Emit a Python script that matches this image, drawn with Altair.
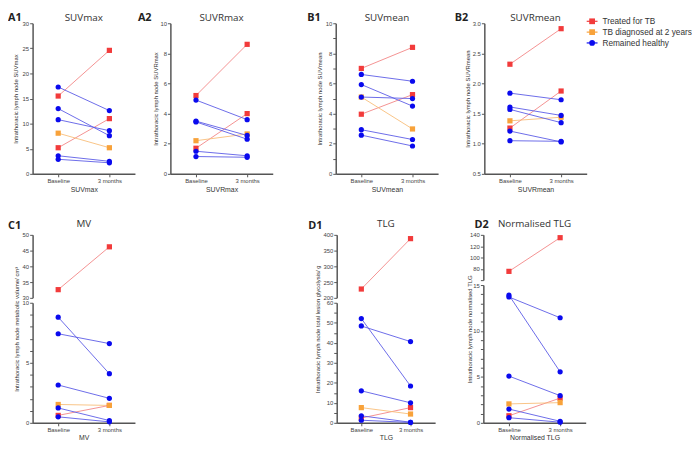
import altair as alt
import pandas as pd

# ---------------- data ----------------
group_names = ["Treated for TB", "TB diagnosed at 2 years", "Remained healthy"]
subject_groups = ["Treated for TB", "Treated for TB", "TB diagnosed at 2 years",
                  "Remained healthy", "Remained healthy", "Remained healthy",
                  "Remained healthy", "Remained healthy"]
timepoints = ["Baseline", "3 months"]

suvmax_baseline = [15.5, 5.2, 8.1, 17.3, 13.0, 10.8, 3.6, 2.9]
suvmax_3months = [24.6, 11.0, 5.2, 12.6, 7.6, 8.6, 2.5, 2.2]

suvrmax_baseline = [5.2, 1.7, 2.2, 4.9, 3.5, 3.45, 1.5, 1.15]
suvrmax_3months = [8.6, 4.0, 2.65, 3.6, 2.55, 2.3, 1.2, 1.1]

suvmean_baseline = [7.0, 3.96, 5.1, 6.6, 5.93, 5.1, 2.93, 2.57]
suvmean_3months = [8.4, 5.26, 2.98, 6.15, 4.5, 5.0, 2.28, 1.85]

suvrmean_baseline = [2.32, 1.26, 1.38, 1.84, 1.61, 1.57, 1.21, 1.05]
suvrmean_3months = [2.91, 1.875, 1.44, 1.73, 1.47, 1.35, 1.03, 1.04]

mv_baseline = [32.6, 0.62, 1.53, 8.8, 7.42, 3.15, 1.24, 0.5]
mv_3months = [46.2, 1.45, 1.45, 4.09, 6.6, 2.04, 0.19, 0.08]

tlg_baseline = [228, 2.4, 7.6, 52.1, 48.4, 16.0, 3.5, 1.3]
tlg_3months = [388, 7.6, 4.4, 18.4, 40.6, 10.0, 0.3, 0.2]

ntlg_baseline = [75.5, 0.77, 2.06, 13.9, 13.7, 5.09, 1.5, 0.56]
ntlg_3months = [135, 2.69, 2.2, 5.55, 11.44, 2.96, 0.17, 0.07]

point_colors = ["#F23B3B", "#F8A23A", "#0A0AEE"]
line_colors = ["#F28585", "#F8BD78", "#5B5BE6"]
shapes = ["square", "square", "circle"]

FONT = "Liberation Sans"
TFONT = "Open Sans"

color_scale = alt.Scale(domain=group_names, range=point_colors)
stroke_scale = alt.Scale(domain=group_names, range=line_colors)
shape_scale = alt.Scale(domain=group_names, range=shapes)


def table(base, m3):
    rows = []
    for i, (g, b, m) in enumerate(zip(subject_groups, base, m3)):
        rows.append({"subject": i, "group": g, "time": timepoints[0], "value": b})
        rows.append({"subject": i, "group": g, "time": timepoints[1], "value": m})
    return pd.DataFrame(rows)


def xenc(xtitle, show, tpad=2):
    kw = dict(sort=timepoints, scale=alt.Scale(type="point", padding=0.5))
    if show:
        kw["axis"] = alt.Axis(title=xtitle, labelAngle=0, labelFontSize=6, titleFontSize=7,
                              labelFont=FONT, titleFont=FONT, tickSize=3, labelPadding=1,
                              titlePadding=tpad, domainColor="#555", domainWidth=1.5,
                              tickColor="#555", labelColor="#444", titleColor="#333",
                              titleFontWeight="normal")
    else:
        kw["axis"] = None
    return alt.X("time:N", **kw)


def yenc(domain, values, label_expr=None, fmt=None, title=None, tx=None, ty=None):
    ax = dict(values=values, labelFontSize=6, labelFont=FONT, titleFont=FONT, titleFontSize=6,
              tickSize=3, labelPadding=1, domainColor="#555", domainWidth=1.5,
              tickColor="#555", labelColor="#444", titleColor="#333", labelOverlap=False,
              titleFontWeight="normal", grid=False, title=title)
    if label_expr:
        ax["labelExpr"] = label_expr
    if fmt:
        ax["format"] = fmt
    if title:
        ax["titleX"] = tx
        ax["titleY"] = ty
        ax["titleBaseline"] = "middle"
    return alt.Y("value:Q", scale=alt.Scale(domain=domain, nice=False, zero=False),
                 axis=alt.Axis(**ax))


def view(df, w, h, x, y, filt=None, label=None, lpos=None, title=None, ty=-5):
    base = alt.Chart(df)
    if filt is not None:
        base = base.transform_filter(filt)
    lines = base.mark_line(strokeWidth=1, opacity=0.9).encode(
        x=x, y=y, detail="subject:N",
        stroke=alt.Stroke("group:N", scale=stroke_scale, legend=None))
    pts = base.mark_point(filled=True, size=28, opacity=1).encode(
        x=x, y=y,
        color=alt.Color("group:N", scale=color_scale, legend=None),
        shape=alt.Shape("group:N", scale=shape_scale, legend=None))
    layers = [lines, pts]
    if label:
        lab = alt.Chart(pd.DataFrame({"label": [label]})).mark_text(
            font=TFONT, fontSize=11, fontWeight="bold", align="left", baseline="middle",
            color="#222").encode(text="label:N", x=alt.value(lpos[0]), y=alt.value(lpos[1]))
        layers.append(lab)
    if title:
        tt = alt.Chart(pd.DataFrame({"title": [title]})).mark_text(
            font=TFONT, fontSize=10, align="center", baseline="middle",
            color="#333").encode(text="title:N", x=alt.value(w / 2), y=alt.value(ty))
        layers.append(tt)
    return alt.layer(*layers).properties(width=w, height=h)


TOPH = 153
LY = -5.5

A1 = view(table(suvmax_baseline, suvmax_3months), 104, TOPH, xenc("SUVmax", True),
          yenc([0, 30], [0, 5, 10, 15, 20, 25, 30], title="Intrathoracic lymph node SUVmax",
               tx=-17.5, ty=TOPH / 2),
          label="A1", lpos=(-25, LY), title="SUVmax")
A2 = view(table(suvrmax_baseline, suvrmax_3months), 104, TOPH, xenc("SUVRmax", True),
          yenc([0, 10], [0, 2, 4, 6, 8, 10], title="Intrathoracic lymph node SUVRmax",
               tx=-15.5, ty=TOPH / 2),
          label="A2", lpos=(-33, LY), title="SUVRmax")
B1 = view(table(suvmean_baseline, suvmean_3months), 104, TOPH, xenc("SUVmean", True),
          yenc([0, 10], list(range(0, 11)), label_expr="datum.value % 2 === 0 ? datum.label : ''",
               title="Intrathoracic lymph node  SUVmean", tx=-16.5, ty=TOPH / 2),
          label="B1", lpos=(-29, LY), title="SUVmean")
B2 = view(table(suvrmean_baseline, suvrmean_3months), 104, TOPH, xenc("SUVRmean", True),
          yenc([0.5, 3.0], [0.5, 1.0, 1.5, 2.0, 2.5, 3.0], fmt=".1f",
               title="Intrathoracic lymph node  SUVRmean", tx=-17.5, ty=TOPH / 2),
          label="B2", lpos=(-30, LY), title="SUVRmean")

# legend drawn as a small chart from the group list
leg_df = pd.DataFrame({"group": group_names})
leg_y = alt.Y("group:N", sort=group_names, axis=None,
              scale=alt.Scale(type="point", padding=0, range=[-2, 20]))
leg_base = alt.Chart(leg_df)
leg_line = leg_base.mark_rule(strokeWidth=1.2).encode(
    x=alt.value(0), x2=alt.value(11), y=leg_y,
    color=alt.Color("group:N", scale=stroke_scale, legend=None))
leg_pt = leg_base.mark_point(filled=True, size=34, opacity=1).encode(
    x=alt.value(5.5), y=leg_y,
    color=alt.Color("group:N", scale=color_scale, legend=None),
    shape=alt.Shape("group:N", scale=shape_scale, legend=None))
leg_txt = leg_base.mark_text(font=FONT, fontSize=8.4, align="left", baseline="middle",
                             color="#333").encode(
    x=alt.value(16), y=leg_y, text="group:N")
legend = alt.layer(leg_line, leg_pt, leg_txt).properties(width=90, height=30)


def broken(df, w, hu, hl, thr, dom_u, vals_u, dom_l, vals_l, expr_u, expr_l, ytitle, tx,
           xtitle, label, lpos, title):
    s = 5
    upper = view(df, w, hu, xenc(xtitle, False),
                 yenc(dom_u, vals_u, label_expr=expr_u),
                 filt=alt.datum.value >= thr, label=label, lpos=lpos, title=title, ty=-11)
    lower = view(df, w, hl, xenc(xtitle, True, tpad=1),
                 yenc(dom_l, vals_l, label_expr=expr_l, title=ytitle, tx=tx,
                      ty=(hl - hu - s) / 2),
                 filt=alt.datum.value < thr)
    return alt.vconcat(upper, lower, spacing=s, bounds="flush")


C1 = broken(table(mv_baseline, mv_3months), 104, 64, 122, 20,
            [30, 50], [30, 35, 40, 45, 50], [0, 10], list(range(0, 11)),
            None, "datum.value % 5 === 0 ? datum.label : ''",
            "Intrathoracic lymph node metabolic volume/ cm\u00b3", -16.5, "MV",
            "C1", (-25, -9), "MV")
D1 = broken(table(tlg_baseline, tlg_3months), 100, 64, 122, 100,
            [200, 400], [200, 250, 300, 350, 400], [0, 60], list(range(0, 61, 5)),
            None, "datum.value % 10 === 0 ? datum.label : ''",
            "Intrathoracic lymph node total lesion glycolysis/ g", -19, "TLG",
            "D1", (-29, -9), "TLG")
D2 = broken(table(ntlg_baseline, ntlg_3months), 104, 46, 140, 30,
            [60, 140], [60, 80, 100, 120, 140], [0, 15], list(range(0, 16)),
            "datum.value >= 80 ? datum.label : ''", "datum.value % 5 === 0 ? datum.label : ''",
            "Intrathoracic lymph node normalised TLG", -14, "Normalised TLG",
            "D2", (-9, -10), "Normalised TLG")

top = alt.hconcat(alt.hconcat(A1, A2, spacing=3),
                  alt.hconcat(B1, alt.hconcat(B2, legend, spacing=-5), spacing=17),
                  spacing=35)
bottom = alt.hconcat(C1, alt.hconcat(D1, D2, spacing=31), spacing=176)

chart = alt.vconcat(top, bottom, spacing=27).properties(
    padding=0, background="white"
).configure_view(strokeWidth=0)

chart.save("out.html", embed_options={"renderer": "svg", "actions": False})
